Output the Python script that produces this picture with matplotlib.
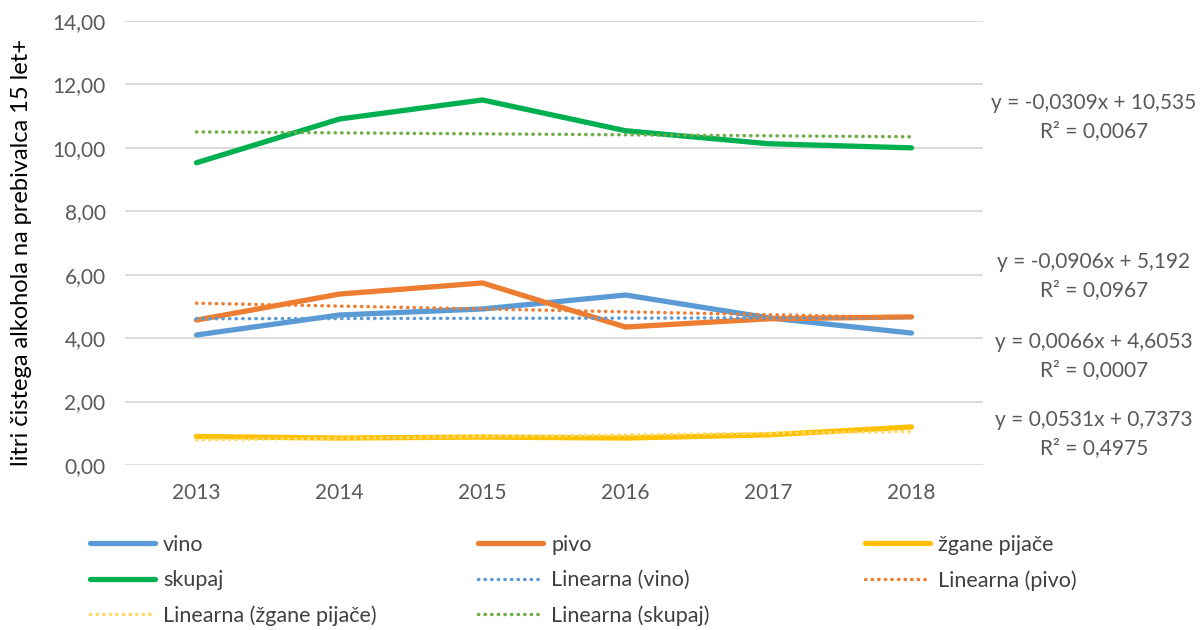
import numpy as np
import matplotlib
matplotlib.use("Agg")
import matplotlib.pyplot as plt
from matplotlib.ticker import FuncFormatter

plt.rcParams['font.family'] = ['Lato', 'DejaVu Sans']

# data
years = ['2013', '2014', '2015', '2016', '2017', '2018']
vino = [4.10, 4.73, 4.92, 5.36, 4.64, 4.16]
pivo = [4.57, 5.39, 5.74, 4.35, 4.61, 4.67]
zgane = [0.90, 0.85, 0.88, 0.85, 0.95, 1.20]
skupaj = [9.53, 10.91, 11.51, 10.54, 10.13, 10.00]

names = ['vino', 'pivo', 'žgane pijače', 'skupaj']
series = [vino, pivo, zgane, skupaj]
colors = ['#5B9BD5', '#ED7D31', '#FFC000', '#00B050']
trend_colors = ['#5B9BD5', '#ED7D31', '#FFD966', '#70AD47']

# trend line coefficients (from the equations shown)
slopes = [0.0066, -0.0906, 0.0531, -0.0309]
intercepts = [4.6053, 5.192, 0.7373, 10.535]
eq_lines = ['y = 0,0066x + 4,6053', 'y = -0,0906x + 5,192',
            'y = 0,0531x + 0,7373', 'y = -0,0309x + 10,535']
r2_lines = ['R² = 0,0007', 'R² = 0,0967', 'R² = 0,4975', 'R² = 0,0067']
eq_ypix = [342, 262, 420, 103]

fig = plt.figure(figsize=(12.02, 6.30), dpi=100)
ax = fig.add_axes([125 / 1202, 1 - 465 / 630, (983 - 125) / 1202, (465 - 21) / 630])

x = np.arange(1, len(years) + 1)
main_handles = []
for s, n, c in zip(series, names, colors):
    h, = ax.plot(x, s, color=c, lw=3.8, solid_capstyle='round', solid_joinstyle='round', label=n)
    main_handles.append(h)

trend_handles = []
for a, b, n, c in zip(slopes, intercepts, names, trend_colors):
    h, = ax.plot(x, a * x + b, color=c, lw=2.5, linestyle=(0, (0.1, 1.8)),
                 dash_capstyle='round', label='Linearna (%s)' % n)
    trend_handles.append(h)

ax.set_xlim(0.5, len(years) + 0.5)
ax.set_ylim(0, 14)
ax.set_yticks(np.arange(0, 15, 2))
ax.yaxis.set_major_formatter(FuncFormatter(lambda v, p: ('%.2f' % v).replace('.', ',')))
ax.set_xticks(x)
ax.set_xticklabels(years)
ax.grid(axis='y', color='#D9D9D9', lw=1.3)
ax.set_axisbelow(True)
for sp in ax.spines.values():
    sp.set_visible(False)
ax.tick_params(axis='both', length=0, labelsize=15, colors='#595959')
ax.tick_params(axis='y', pad=14)
ax.tick_params(axis='x', pad=13)

fig.text(22 / 1202, 1 - 252 / 630, 'litri čistega alkohola na prebivalca 15 let+',
         rotation=90, ha='center', va='center', fontsize=17, color='black')

# trend equations
for eq, r2, yp in zip(eq_lines, r2_lines, eq_ypix):
    fig.text(1094 / 1202, 1 - yp / 630, eq, ha='center', va='center', fontsize=15, color='#595959')
    fig.text(1094 / 1202, 1 - (yp + 28) / 630, r2, ha='center', va='center', fontsize=15, color='#595959')

# legend: three columns placed like the original
all_handles = main_handles + trend_handles
cols = [[0, 3, 6], [1, 4, 7], [2, 5]]
col_x = [90, 478, 865]
for ci, idx in enumerate(cols):
    hs = [all_handles[i] for i in idx]
    fig.legend(hs, [h.get_label() for h in hs], loc='upper left',
               bbox_to_anchor=(col_x[ci] / 1202, 1 - 535 / 630), frameon=False,
               fontsize=15.5, handlelength=3.0, handletextpad=0.4, labelspacing=0.7,
               labelcolor='#404040', borderaxespad=0, borderpad=0)

fig.savefig('out.png', dpi=100, facecolor='white')
